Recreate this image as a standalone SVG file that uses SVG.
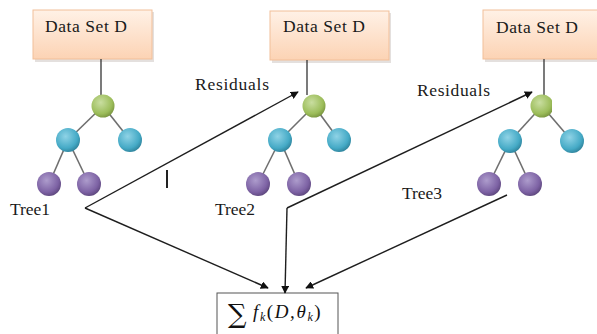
<svg xmlns="http://www.w3.org/2000/svg" width="597" height="334" viewBox="0 0 597 334">
<style>
.lbl{font-family:"Liberation Serif","Times New Roman",serif;font-size:17.5px;fill:#1a1a1a}
.box{fill:url(#peach);stroke:#f2bf99;stroke-width:1}
.shadow{fill:#c9c2bd;opacity:0.5}
.edge{stroke:#6f6f6f;stroke-width:1.6;fill:none}
.stem{stroke:#333;stroke-width:1.3;fill:none}
.conn{stroke:#1e1e1e;stroke-width:1.4;fill:none}
.g{fill:url(#gGreen)}
.c{fill:url(#gCyan)}
.p{fill:url(#gPurple)}
</style>
<defs>
<linearGradient id="peach" x1="0" y1="0" x2="0" y2="1">
<stop offset="0" stop-color="#fff1e6"/>
<stop offset="1" stop-color="#fcd3b4"/>
</linearGradient>
<radialGradient id="gGreen" cx="0.4" cy="0.35" r="0.7">
<stop offset="0" stop-color="#c9dea0"/>
<stop offset="0.7" stop-color="#9cbd5a"/>
<stop offset="1" stop-color="#76913d"/>
</radialGradient>
<radialGradient id="gCyan" cx="0.4" cy="0.35" r="0.7">
<stop offset="0" stop-color="#8fd3e6"/>
<stop offset="0.7" stop-color="#45aac6"/>
<stop offset="1" stop-color="#2d7f97"/>
</radialGradient>
<radialGradient id="gPurple" cx="0.4" cy="0.35" r="0.7">
<stop offset="0" stop-color="#ad9ccc"/>
<stop offset="0.7" stop-color="#7d62a4"/>
<stop offset="1" stop-color="#5a4479"/>
</radialGradient>
<marker id="ah" viewBox="0 0 10 10" refX="9" refY="5" markerWidth="8" markerHeight="8" markerUnits="userSpaceOnUse" orient="auto">
<path d="M0,0 L10,5 L0,10 z" fill="#111"/>
</marker>
<clipPath id="clip3"><rect x="520" y="90" width="32" height="40"/></clipPath>
</defs>

<g id="dataset1">
<rect class="shadow" x="35" y="12" width="119" height="50"/>
<rect class="box" x="33" y="10" width="119" height="49"/>
<text class="lbl" x="45" y="32" textLength="82">Data Set D</text>
</g>
<g id="dataset2">
<rect class="shadow" x="272" y="13" width="119" height="50"/>
<rect class="box" x="270" y="11" width="119" height="49"/>
<text class="lbl" x="283" y="32" textLength="82">Data Set D</text>
</g>
<g id="dataset3">
<rect class="shadow" x="485" y="12" width="119" height="50"/>
<rect class="box" x="483" y="10" width="119" height="49"/>
<text class="lbl" x="496" y="33" textLength="82">Data Set D</text>
</g>

<g id="tree1">
<line class="stem" x1="101" y1="59" x2="101" y2="95"/>
<line class="edge" x1="103" y1="106" x2="68" y2="140"/>
<line class="edge" x1="103" y1="106" x2="130" y2="140"/>
<line class="edge" x1="68" y1="140" x2="49" y2="184"/>
<line class="edge" x1="68" y1="140" x2="89" y2="184"/>
<circle class="g" cx="103" cy="106" r="11.5"/>
<circle class="c" cx="68" cy="140" r="12"/>
<circle class="c" cx="130" cy="140" r="12"/>
<circle class="p" cx="49" cy="184" r="12"/>
<circle class="p" cx="89" cy="184" r="12"/>
<text class="lbl" x="10" y="215" textLength="40">Tree1</text>
</g>

<g id="tree2">
<line class="stem" x1="307" y1="60" x2="307" y2="95"/>
<line class="edge" x1="314" y1="106" x2="280" y2="140"/>
<line class="edge" x1="314" y1="106" x2="339" y2="140"/>
<line class="edge" x1="280" y1="140" x2="258" y2="184"/>
<line class="edge" x1="280" y1="140" x2="299" y2="184"/>
<circle class="g" cx="314" cy="106" r="11.5"/>
<circle class="c" cx="280" cy="140" r="12"/>
<circle class="c" cx="339" cy="140" r="12"/>
<circle class="p" cx="258" cy="184" r="12"/>
<circle class="p" cx="299" cy="184" r="12"/>
<text class="lbl" x="215" y="215" textLength="40">Tree2</text>
</g>

<g id="tree3">
<line class="stem" x1="544" y1="59" x2="544" y2="95"/>
<line class="edge" x1="542" y1="106" x2="510" y2="141"/>
<line class="edge" x1="542" y1="106" x2="572" y2="141"/>
<line class="edge" x1="510" y1="141" x2="489" y2="184"/>
<line class="edge" x1="510" y1="141" x2="530" y2="184"/>
<circle class="g" cx="542" cy="106" r="11.5" clip-path="url(#clip3)"/>
<circle class="c" cx="510" cy="141" r="12"/>
<circle class="c" cx="572" cy="141" r="12"/>
<circle class="p" cx="489" cy="184" r="12"/>
<circle class="p" cx="530" cy="184" r="12"/>
<text class="lbl" x="402" y="199" textLength="40">Tree3</text>
</g>

<g id="sum">
<rect x="217" y="293" width="121" height="50" fill="#fff" stroke="#555" stroke-width="1"/>
<text x="228" y="323" font-family="'DejaVu Serif','Liberation Serif',serif" font-size="26" fill="#111">∑</text>
<text x="253" y="318" font-family="'Liberation Serif',serif" font-style="italic" font-size="19" fill="#111" letter-spacing="1.6">f<tspan font-size="12" dy="3">k</tspan><tspan dy="-3" font-style="normal">(</tspan>D,θ<tspan font-size="12" dy="3">k</tspan><tspan dy="-3" font-style="normal">)</tspan></text>
</g>

<g id="connectors">
<line class="conn" x1="85" y1="208" x2="298" y2="92" marker-end="url(#ah)"/>
<line class="conn" x1="85" y1="208" x2="268" y2="288" marker-end="url(#ah)"/>
<line class="conn" x1="287" y1="208" x2="532" y2="92" marker-end="url(#ah)"/>
<line class="conn" x1="287" y1="208" x2="285" y2="293" marker-end="url(#ah)"/>
<line class="conn" x1="507" y1="195" x2="306" y2="288" marker-end="url(#ah)"/>
<line x1="167" y1="170" x2="167" y2="188" stroke="#222" stroke-width="2"/>
</g>

<text class="lbl" x="195" y="90" textLength="74">Residuals</text>
<text class="lbl" x="417" y="96" textLength="73">Residuals</text>
</svg>
